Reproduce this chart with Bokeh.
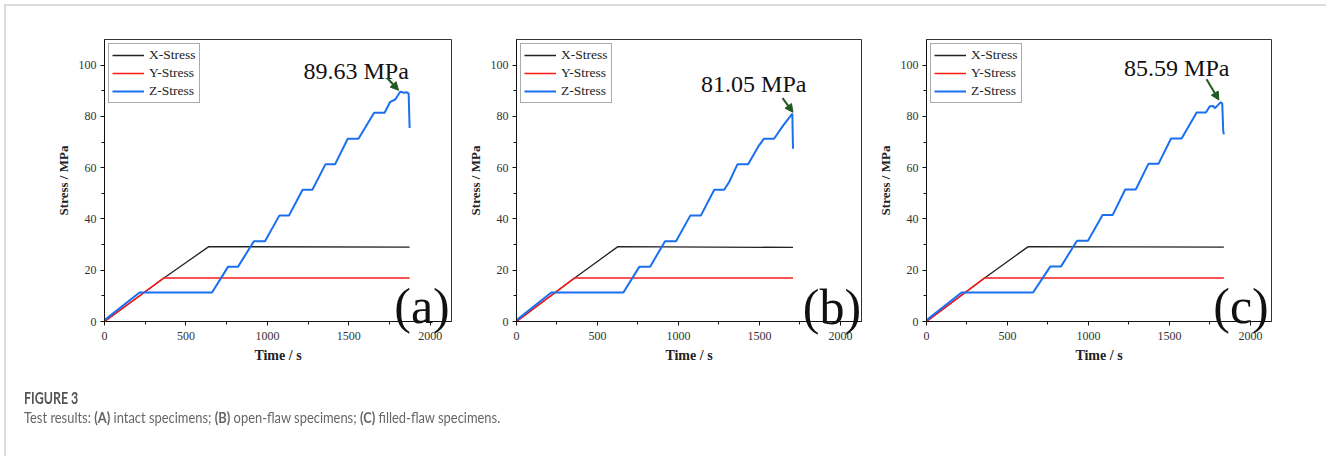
from bokeh.plotting import figure
from bokeh.models import Range1d, Legend, LegendItem, Label, Arrow, NormalHead, Div, FixedTicker
from bokeh.layouts import row, column
from bokeh.embed import file_html
from bokeh.resources import INLINE

# ---------------- data ----------------
x_ticks = [0, 500, 1000, 1500, 2000]
y_ticks = [0, 20, 40, 60, 80, 100]
series_names = ["X-Stress", "Y-Stress", "Z-Stress"]
panel_tags = ["(a)", "(b)", "(c)"]
peak_labels = ["89.63 MPa", "81.05 MPa", "85.59 MPa"]

# panel (a) intact
a_x_t = [0, 365, 640, 1873]
a_x_s = [0, 17.0, 29.2, 29.0]
a_y_t = [0, 365, 1873]
a_y_s = [0, 17.0, 17.0]
a_z_t = [0, 215, 660, 759, 820, 917, 985, 1073, 1132, 1216, 1276, 1356, 1415, 1493, 1559,
         1655, 1719, 1754, 1785, 1815, 1840, 1856, 1867, 1871, 1873]
a_z_s = [0.5, 11.3, 11.3, 21.4, 21.4, 31.3, 31.3, 41.3, 41.3, 51.4, 51.4, 61.3, 61.3, 71.3, 71.3,
         81.4, 81.4, 85.7, 86.6, 89.63, 89.2, 89.4, 88.9, 79.8, 75.5]

# panel (b) open-flaw
b_x_t = [0, 359, 626, 1707]
b_x_s = [0, 17.0, 29.2, 28.9]
b_y_t = [0, 359, 1707]
b_y_s = [0, 17.0, 17.0]
b_z_t = [0, 215, 660, 759, 825, 917, 985, 1073, 1138, 1221, 1282, 1313, 1364, 1430, 1493,
         1528, 1590, 1647, 1703, 1707]
b_z_s = [0.5, 11.3, 11.3, 21.4, 21.4, 31.3, 31.3, 41.3, 41.3, 51.4, 51.4, 54.4, 61.3, 61.3, 68.3,
         71.3, 71.3, 76.5, 81.05, 67.4]

# panel (c) filled-flaw
c_x_t = [0, 359, 628, 1836]
c_x_s = [0, 17.0, 29.2, 29.0]
c_y_t = [0, 359, 1836]
c_y_s = [0, 17.0, 17.0]
c_z_t = [0, 217, 658, 765, 831, 929, 997, 1087, 1149, 1227, 1292, 1370, 1432, 1510, 1575,
         1668, 1725, 1750, 1770, 1780, 1801, 1817, 1826, 1832, 1836]
c_z_s = [0.5, 11.3, 11.3, 21.5, 21.5, 31.5, 31.5, 41.5, 41.5, 51.5, 51.5, 61.5, 61.5, 71.4, 71.4,
         81.5, 81.5, 84.0, 84.1, 83.2, 84.5, 85.59, 84.9, 74.3, 73.0]

# ---------------- styling ----------------
SERIF = "Liberation Serif"
COLORS = ["#222222", "#ff1a1a", "#1a6ff0"]
WIDTHS = [1.3, 1.5, 2.0]
GREEN = "#1f5a1f"

# annotation placement (data coords): text center, arrow start, arrow end
ann = [
    dict(tx=1545, ty=97.7, xs=1735, ys=95.0, xe=1805, ye=90.2),
    dict(tx=1465, ty=92.6, xs=1643, ys=87.1, xe=1707, ye=81.6),
    dict(tx=1545, ty=98.8, xs=1729, ys=94.5, xe=1805, ye=86.4),
]
# page positions (px) of the big panel tags (they overflow the frame, so drawn as HTML)
tag_page_pos = [(422, 310), (832, 311), (1241, 310)]


def make_panel(i, xt, xs, yt, ys, zt, zs, width, mbl):
    p = figure(width=width, height=366, x_range=Range1d(0, 2130), y_range=Range1d(0, 110),
               output_backend="svg", toolbar_location=None,
               min_border_left=mbl, min_border_right=13, min_border_top=39, min_border_bottom=45)
    p.xgrid.visible = False
    p.ygrid.visible = False
    p.outline_line_color = "#333333"
    p.outline_line_width = 1
    p.background_fill_color = "white"
    p.border_fill_color = "white"

    p.xaxis.ticker = FixedTicker(ticks=x_ticks, minor_ticks=[250, 750, 1250, 1750])
    p.yaxis.ticker = FixedTicker(ticks=y_ticks, minor_ticks=[10, 30, 50, 70, 90])
    for ax in (p.xaxis[0], p.yaxis[0]):
        ax.axis_line_color = "#111111"
        ax.axis_line_width = 1
        ax.major_tick_in = 0
        ax.major_tick_out = 4
        ax.minor_tick_in = 0
        ax.minor_tick_out = 3
        ax.major_tick_line_color = "#111111"
        ax.minor_tick_line_color = "#111111"
        ax.major_label_text_font = SERIF
        ax.major_label_text_font_size = "12px"
        ax.major_label_text_color = "#333333"
        ax.axis_label_text_font = SERIF
        ax.axis_label_text_font_style = "bold"
        ax.axis_label_text_color = "#222222"
    p.xaxis.major_label_standoff = 6
    p.yaxis.major_label_standoff = 4
    p.xaxis.axis_label = "Time / s"
    p.xaxis.axis_label_text_font_size = "14px"
    p.xaxis.axis_label_standoff = 5
    p.yaxis.axis_label = "Stress / MPa"
    p.yaxis.axis_label_text_font_size = "13px"
    p.yaxis.axis_label_standoff = 5

    rx = p.line(xt, xs, line_color=COLORS[0], line_width=WIDTHS[0])
    ry = p.line(yt, ys, line_color=COLORS[1], line_width=WIDTHS[1])
    rz = p.line(zt, zs, line_color=COLORS[2], line_width=WIDTHS[2])

    legend = Legend(items=[LegendItem(label=series_names[0], renderers=[rx]),
                           LegendItem(label=series_names[1], renderers=[ry]),
                           LegendItem(label=series_names[2], renderers=[rz])],
                    location="top_left", margin=4, padding=3, spacing=2,
                    glyph_width=32, glyph_height=16, label_height=16, label_standoff=5,
                    label_text_font=SERIF, label_text_font_size="13.5px",
                    label_text_color="#222222",
                    border_line_color="#555555", border_line_width=1,
                    background_fill_color="white", background_fill_alpha=1)
    p.add_layout(legend)

    a = ann[i]
    p.add_layout(Label(x=a["tx"], y=a["ty"], text=peak_labels[i], text_font=SERIF,
                       text_font_size="24px", text_align="center", text_baseline="middle",
                       text_color="#111111"))
    p.add_layout(Arrow(end=NormalHead(size=8, fill_color=GREEN, line_color=GREEN),
                       x_start=a["xs"], y_start=a["ys"], x_end=a["xe"], y_end=a["ye"],
                       line_color=GREEN, line_width=2))
    return p


pa = make_panel(0, a_x_t, a_x_s, a_y_t, a_y_s, a_z_t, a_z_s, 464, 104)
pb = make_panel(1, b_x_t, b_x_s, b_y_t, b_y_s, b_z_t, b_z_s, 410, 50)
pc = make_panel(2, c_x_t, c_x_s, c_y_t, c_y_s, c_z_t, c_z_s, 410, 50)

tags_html = "".join(
    '<div style="position:fixed;left:%dpx;top:%dpx;width:100px;text-align:center;'
    'font-family:\'Liberation Serif\';font-size:50px;line-height:50px;color:#111;'
    'pointer-events:none">%s</div>' % (cx - 50, cy - 29, t)
    for (cx, cy), t in zip(tag_page_pos, panel_tags)
)

caption_html = (
    '<div style="position:fixed;left:4px;top:4px;width:1400px;height:600px;'
    'border-top:2px solid #dcdcdc;border-left:2px solid #dcdcdc;pointer-events:none"></div>'
    + tags_html +
    '<div style="font-family:Lato;color:#555;font-size:17px;font-weight:bold;line-height:20px;'
    'white-space:nowrap;transform:scaleX(0.73);transform-origin:left">FIGURE 3</div>'
    '<div style="font-family:Lato;color:#666;font-size:14.5px;line-height:20px;white-space:nowrap;'
    'transform:scaleX(0.89);transform-origin:left">'
    'Test results: <b>(A)</b> intact specimens; <b>(B)</b> open-flaw specimens; '
    '<b>(C)</b> filled-flaw specimens.</div>'
)
caption = Div(text=caption_html, width=1000, height=50, margin=(22, 0, 0, 24))

layout = column(row(pa, pb, pc), caption)

open("out.html", "w").write(file_html(layout, INLINE))
